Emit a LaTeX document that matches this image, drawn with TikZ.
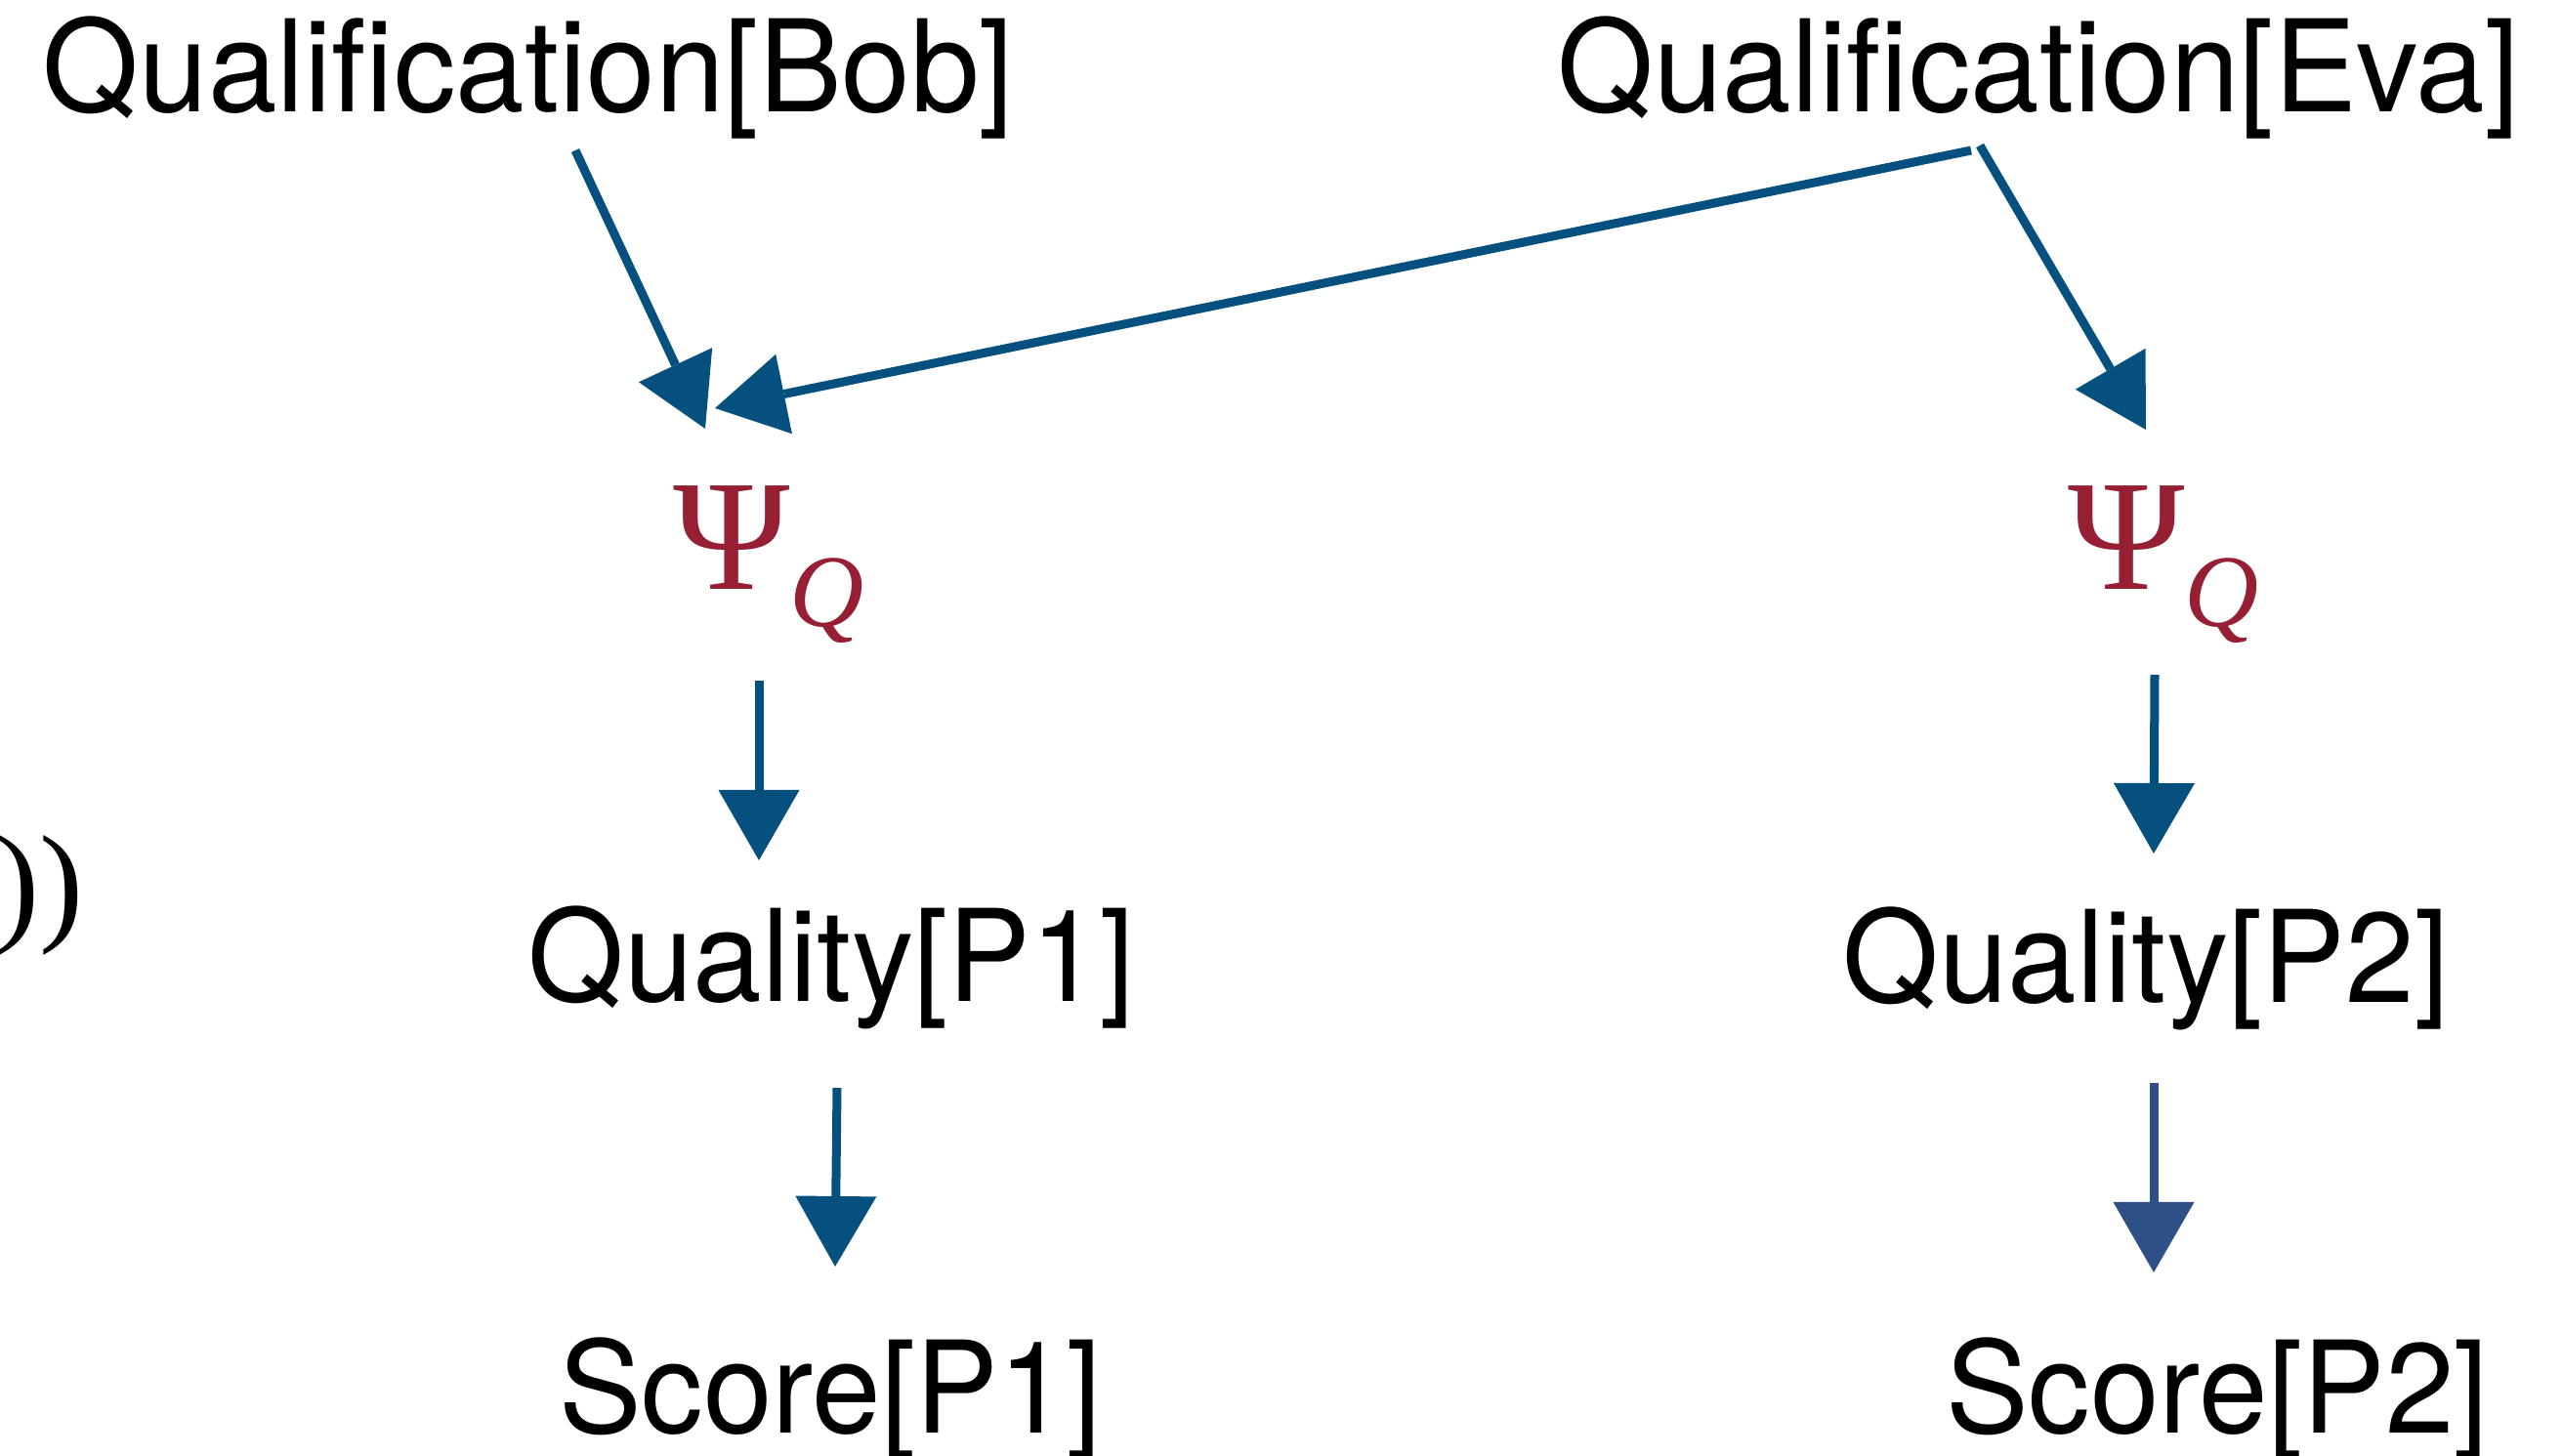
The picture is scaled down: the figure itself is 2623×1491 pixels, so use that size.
\documentclass[tikz,border=0pt]{standalone}
\usepackage{fontspec}
\usetikzlibrary{arrows.meta,calc}
\newfontfamily\labelfont{TeX Gyre Heros}[FakeStretch=0.97]
\newfontfamily\serifgreek{Liberation Serif}
\definecolor{arrowblue}{RGB}{5,80,126}
\definecolor{arrowblueb}{RGB}{46,80,135}
\definecolor{factorred}{RGB}{150,31,52}
\newcommand\psifactor{{\serifgreek\fontsize{46pt}{48pt}\selectfont Ψ}\kern-0.01cm\raisebox{-0.38cm}{\serifgreek\itshape\fontsize{30pt}{33pt}\selectfont Q}}

\begin{document}
\begin{tikzpicture}[x=0.01cm,y=-0.01cm,
  var/.style={inner sep=0pt, anchor=base,
    font=\labelfont\fontsize{37.2pt}{40pt}\selectfont},
  factor/.style={inner sep=0pt, anchor=base west, text=factorred},
  link/.style={draw=arrowblue, line width=0.09cm,
    -{Triangle[length=0.72cm,width=0.83cm,line width=0pt]}}
]
\useasboundingbox (0,0) rectangle (2623,1491);

% variables
\node[var] (bob) at (541,115) {Qualification[Bob]};
\node[var] (eva) at (2087,115) {Qualification[Eva]};
\node[var] (qp1) at (851,1025) {Quality[P1]};
\node[var] (qp2) at (2197,1026) {Quality[P2]};
\node[var] (sp1) at (850,1467) {Score[P1]};
\node[var] (sp2) at (2270,1467) {Score[P2]};

% factors
\node[factor] (psiL) at (689,603) {\psifactor};
\node[factor] (psiR) at (2117,603) {\psifactor};

% closing parentheses at the left edge
\node[inner sep=0pt, anchor=base west, font=\serifgreek\fontsize{38.5pt}{40pt}\selectfont] (parens) at (-5,949) {))};

% dependencies
\draw[link] ($(bob.base)+(48,39)$) -- ($(psiL.base west)+(33,-164)$);
\draw[link] ($(eva.base)+(-69,39)$) -- ($(psiL.base west)+(43,-185)$);
\draw[link] ($(eva.base)+(-60,34)$) -- ($(psiR.base west)+(80,-163)$);
\draw[link] ($(psiL.base west)+(88,94)$) -- ($(qp1.base)+(-74,-144)$);
\draw[link] ($(psiR.base west)+(89,88)$) -- ($(qp2.base)+(8,-152)$);
\draw[link] ($(qp1.base)+(6,89)$) -- ($(sp1.base)+(5,-170)$);
\draw[link,draw=arrowblueb] ($(qp2.base)+(8,83)$) -- ($(sp2.base)+(-65,-164)$);
\end{tikzpicture}
\end{document}
